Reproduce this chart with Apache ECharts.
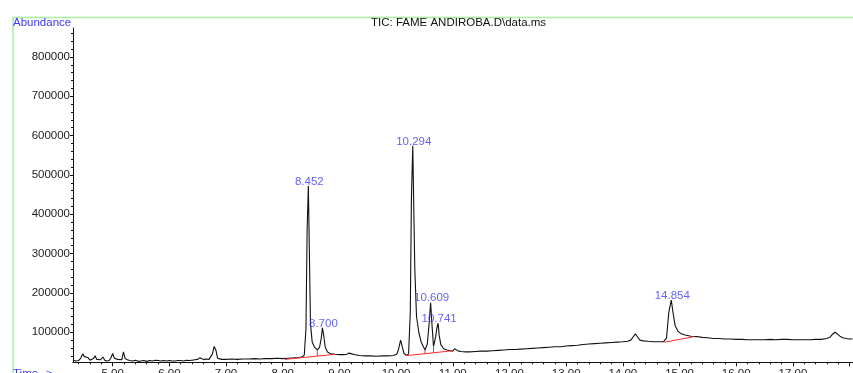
<!DOCTYPE html>
<html>
<head>
<meta charset="utf-8">
<script src="https://cdn.jsdelivr.net/npm/echarts@6/dist/echarts.min.js"></script>
<style>
html,body{margin:0;padding:0;background:#fff;}
#chart{width:853px;height:373px;}
</style>
</head>
<body>
<div id="chart"></div>
<script>
// Retention time (min)
var times = [
4.30,4.35,4.40,4.44,4.47,4.50,4.53,4.56,4.60,4.63,4.66,4.69,4.72,4.75,4.78,4.83,4.86,4.90,4.94,4.97,
5.00,5.03,5.06,5.09,5.12,5.16,5.19,5.22,5.26,5.30,5.35,5.40,5.45,5.50,5.55,5.60,5.65,5.70,5.75,5.80,
5.85,5.90,5.95,6.00,6.05,6.10,6.15,6.20,6.25,6.30,6.35,6.40,6.45,6.50,6.54,6.58,6.62,6.66,6.70,6.73,
6.76,6.79,6.82,6.85,6.88,6.92,7.00,7.10,7.20,7.30,7.40,7.50,7.60,7.70,7.80,7.90,8.00,8.10,8.20,8.28,
8.34,8.38,8.41,8.43,8.452,8.47,8.49,8.52,8.56,8.61,8.65,8.68,8.70,8.72,8.75,8.79,8.85,8.92,9.00,9.08,
9.13,9.17,9.22,9.28,9.35,9.45,9.55,9.65,9.75,9.85,9.95,10.01,10.04,10.08,10.11,10.14,10.18,10.22,10.25,10.27,
10.294,10.31,10.33,10.36,10.40,10.44,10.48,10.51,10.55,10.58,10.609,10.63,10.66,10.70,10.72,10.741,10.76,10.79,10.84,10.90,
10.96,11.00,11.03,11.06,11.10,11.15,11.22,11.30,11.40,11.50,11.60,11.70,11.80,11.90,12.00,12.10,12.20,12.30,12.40,12.50,
12.60,12.70,12.80,12.90,13.00,13.10,13.20,13.30,13.40,13.50,13.60,13.70,13.80,13.90,14.00,14.08,14.14,14.18,14.22,14.26,
14.30,14.36,14.45,14.55,14.65,14.72,14.77,14.81,14.854,14.88,14.92,14.97,15.03,15.10,15.20,15.30,15.40,15.50,15.60,15.70,
15.80,15.90,16.00,16.10,16.20,16.30,16.40,16.50,16.60,16.70,16.80,16.90,17.00,17.10,17.20,17.30,17.40,17.50,17.60,17.66,
17.70,17.74,17.78,17.83,17.88,17.94,18.00,18.05
];
// Abundance (thousands of counts)
var abundanceK = [
29,27,28,35,45,38,34,36,29,30,33,40,31,28,30,37,29,27,28,35,
46,34,36,31,29,30,50,33,30,28,27,29,26,27,28,26,28,27,29,28,
27,28,27,28,27,27,28,28,27,29,28,29,30,31,35,32,31,32,31,33,
45,64,55,34,32,31,31,32,31,32,32,33,32,33,33,34,33,34,35,36,
37,42,110,360,472,300,120,75,62,55,62,85,111,95,62,50,45,44,43,43,
44,47,45,43,41,40,40,39,40,40,41,44,55,80,62,46,41,45,150,440,
574,430,260,140,100,76,64,55,70,118,175,125,64,90,112,123,92,68,58,55,
53,52,58,54,52,51,50,50,51,52,52,53,54,55,56,56,57,58,59,60,
61,62,63,63,65,66,67,69,70,71,72,73,74,75,76,77,80,88,96,88,
80,78,77,76,76,76,85,150,182,155,118,103,96,93,90,89,87,86,84,84,
83,83,82,82,81,81,81,81,82,81,82,82,81,81,81,81,82,82,84,88,
95,100,96,90,86,84,83,83
];
// Labelled peaks
var peakTimes = [8.452, 8.700, 10.294, 10.609, 10.741, 14.854];
var peakHeightsK = [472, 111, 574, 175, 123, 182];
// Integration baselines (red): [t0, y0K, t1, y1K]
var baselineSegments = [
  [8.04, 31, 8.93, 44],
  [10.18, 40.5, 11.00, 53],
  [14.73, 74.5, 15.26, 89]
];
// Peak split drop-lines: [t, baseK, topK]
var dropLines = [
  [8.61, 39.3, 55],
  [10.51, 45.5, 55],
  [10.66, 47.8, 63]
];
var yLabelValues = [100000,200000,300000,400000,500000,600000,700000,800000];
var xLabelValues = [5,6,7,8,9,10,11,12,13,14,15,16,17];

var tic = times.map(function(t,i){ return [t, abundanceK[i]*1000]; });
var peaks = peakTimes.map(function(t,i){ return [t, peakHeightsK[i]*1000]; });

var yMin = 23600, yMax = 873600, xMin = 4.30, xMax = 18.06;
var yMinor = []; for (var v = 40000; v <= 860000; v += 20000) yMinor.push(v);
var xMinor = []; for (var k = 22; k <= 90; k++) xMinor.push(+(k*0.2).toFixed(1));
var xMajor = xLabelValues.concat([18]);

var FONT = '"Liberation Sans", Arial, sans-serif';
var BLUE = '#3a3aff';

var series = [{
  type: 'line', data: tic, showSymbol: false, symbol: 'none',
  lineStyle: {color: '#111', width: 1.1}, z: 3, silent: true
}];
baselineSegments.forEach(function(s){
  series.push({type:'line', data:[[s[0],s[1]*1000],[s[2],s[3]*1000]], symbol:'none',
    lineStyle:{color:'#ff2a2a', width:1}, z:4, silent:true});
});
dropLines.forEach(function(d){
  series.push({type:'line', data:[[d[0],d[1]*1000],[d[0],d[2]*1000]], symbol:'none',
    lineStyle:{color:'#ff2a2a', width:1}, z:4, silent:true});
});
series.push({
  type: 'scatter', data: peaks, symbolSize: 0, z: 5,
  label: {show: true, position: 'top', distance: 0, offset: [1, 1.5], color: BLUE, fontFamily: FONT, fontSize: 11.5,
    formatter: function(p){ return p.value[0].toFixed(3); }}
});

var chart = echarts.init(document.getElementById('chart'), null, {renderer: 'canvas'});
chart.setOption({
  animation: false,
  backgroundColor: '#fff',
  grid: {left: 73, right: 0, top: 28, bottom: 10.7, containLabel: false, outerBoundsMode: 'none'},
  xAxis: [{
    type: 'value', min: xMin, max: xMax,
    axisLine: {show: true, onZero: false, lineStyle: {color: '#111', width: 1}},
    axisTick: {show: true, customValues: xMajor, length: 4, lineStyle: {color: '#111'}},
    axisLabel: {show: true, customValues: xLabelValues, margin: 6, color: '#222', fontFamily: FONT, fontSize: 11.5,
      formatter: function(v){ return v.toFixed(2); }},
    splitLine: {show: false}
  },{
    type: 'value', min: xMin, max: xMax, position: 'bottom',
    axisLine: {show: false},
    axisTick: {show: true, customValues: xMinor, length: 2, lineStyle: {color: '#111'}},
    axisLabel: {show: false}, splitLine: {show: false}
  }],
  yAxis: [{
    type: 'value', min: yMin, max: yMax,
    axisLine: {show: true, onZero: false, lineStyle: {color: '#111', width: 1}},
    axisTick: {show: true, customValues: yLabelValues, length: 3, lineStyle: {color: '#111'}},
    axisLabel: {show: true, customValues: yLabelValues, margin: 3, color: '#222', fontFamily: FONT, fontSize: 11.5,
      formatter: function(v){ return String(Math.round(v)); }},
    splitLine: {show: false}
  },{
    type: 'value', min: yMin, max: yMax, position: 'left',
    axisLine: {show: false},
    axisTick: {show: true, customValues: yMinor, length: 2, inside: false, lineStyle: {color: '#111'}},
    axisLabel: {show: false}, splitLine: {show: false}
  }],
  graphic: [
    {type: 'polyline', shape: {points: [[13, 373], [13, 17.5], [853, 17.5]]}, silent: true,
      style: {stroke: '#a6f0a0', lineWidth: 1.5, fill: null}},
    {type: 'text', left: 13, top: 16.5, silent: true,
      style: {text: 'Abundance', fill: BLUE, font: '11.5px ' + FONT}},
    {type: 'text', left: 371, top: 17, silent: true,
      style: {text: 'TIC: FAME ANDIROBA.D\\data.ms', fill: '#111', font: '11.5px ' + FONT}},
    {type: 'text', left: 13, top: 367.5, silent: true,
      style: {text: 'Time-->', fill: BLUE, font: '11.5px ' + FONT}}
  ],
  series: series
});
</script>
</body>
</html>
